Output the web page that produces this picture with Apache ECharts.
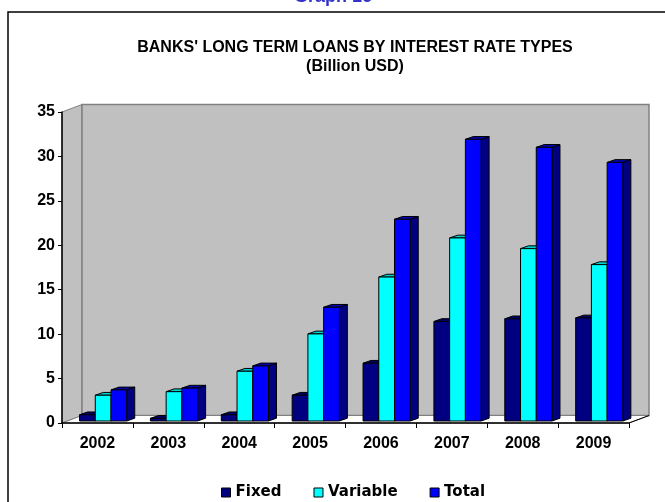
<!DOCTYPE html>
<html><head><meta charset="utf-8">
<script src="https://cdn.jsdelivr.net/npm/echarts@6/dist/echarts.min.js"></script>
<style>html,body{margin:0;padding:0;background:#fff}#c{width:665px;height:502px}</style>
</head><body><div id="c"></div>
<script>
const years = ['2002','2003','2004','2005','2006','2007','2008','2009'];
const fixed = [0.7, 0.3, 0.7, 2.9, 6.5, 11.2, 11.5, 11.6];
const variable = [2.9, 3.3, 5.6, 9.8, 16.2, 20.6, 19.4, 17.6];
const total = [3.5, 3.7, 6.2, 12.8, 22.7, 31.7, 30.8, 29.1];
const seriesNames = ['Fixed', 'Variable', 'Total'];
const yMin = 0, yMax = 35, yStep = 5;

// 3D styling
const WX = 20, WY = 7.5;   // wall depth
const SX = 5.7, SY = 2;    // bar front-plane offset
const DX = 8, DY = 2.8;    // bar depth
const BAR_FRAC = 0.222;
const faces = [
  {front:'#000080', top:'#00006a', side:'#000050'},
  {front:'#00FFFF', top:'#00CCCC', side:'#009999'},
  {front:'#0000FF', top:'#0000B0', side:'#000080'}
];

function barRenderer(k) {
  const c = faces[k];
  return function(params, api) {
    const i = api.value(0), v = api.value(1);
    const p0 = api.coord([i, 0]), p1 = api.coord([i, v]);
    const band = api.size([1, 0])[0];
    const bw = band * BAR_FRAC;
    const x0 = p0[0] - 1.5 * bw + k * bw + SX;
    const x1 = x0 + bw;
    const yb = p0[1] - SY, yt = p1[1] - SY;
    return {type:'group', children:[
      {type:'polygon', shape:{points:[[x1,yt],[x1+DX,yt-DY],[x1+DX,yb-DY],[x1,yb]]},
        style:{fill:c.side, stroke:'#000', lineWidth:1}},
      {type:'polygon', shape:{points:[[x0,yt],[x0+DX,yt-DY],[x1+DX,yt-DY],[x1,yt]]},
        style:{fill:c.top, stroke:'#000', lineWidth:1}},
      {type:'rect', shape:{x:x0, y:yt, width:bw, height:yb-yt},
        style:{fill:c.front, stroke:'#000', lineWidth:1}}
    ]};
  };
}

function wallRenderer(params, api) {
  const g = params.coordSys;
  const gx = g.x, gy = g.y, gw = g.width, gh = g.height, gb = gy + gh;
  return {type:'group', children:[
    {type:'polygon', shape:{points:[[gx,gy],[gx+WX,gy-WY],[gx+WX,gb-WY],[gx,gb]]},
      style:{fill:'#c0c0c0', stroke:'#808080', lineWidth:1}},
    {type:'rect', shape:{x:gx+WX, y:gy-WY, width:gw, height:gh},
      style:{fill:'#c0c0c0', stroke:'#808080', lineWidth:1.5}},
    {type:'polygon', shape:{points:[[gx,gb],[gx+WX,gb-WY],[gx+gw+WX,gb-WY],[gx+gw,gb]]},
      style:{fill:'#ffffff', stroke:'#808080', lineWidth:1}},
    {type:'line', shape:{x1:gx+gw, y1:gb, x2:gx+gw+WX, y2:gb-WY},
      style:{stroke:'#000', lineWidth:1}}
  ]};
}

const numFont = {fontFamily:'Liberation Sans', fontWeight:'bold', fontSize:16, color:'#000'};
const allData = [fixed, variable, total];

const chart = echarts.init(document.getElementById('c'), null, {renderer:'canvas'});
chart.setOption({
  animation:false,
  backgroundColor:'#fff',
  grid:{left:62, right:36, top:112, height:311},
  graphic:[
    {type:'rect', shape:{x:8, y:12, width:720, height:520}, style:{fill:'none', stroke:'#000', lineWidth:1.5}, z:-1},
    {type:'text', x:333, y:-3, style:{text:'Graph 16', fill:'#3333CC', font:'bold 18px "Liberation Sans"', textAlign:'center', textVerticalAlign:'middle'}},
    {type:'text', x:355, y:48, style:{text:"BANKS' LONG TERM LOANS BY INTEREST RATE TYPES", fill:'#000', font:'bold 16px "Liberation Sans"', textAlign:'center', textVerticalAlign:'middle'}},
    {type:'text', x:355, y:67, style:{text:'(Billion USD)', fill:'#000', font:'bold 16px "Liberation Sans"', textAlign:'center', textVerticalAlign:'middle'}}
  ],
  legend:{
    data:seriesNames, left:216, top:480, itemWidth:9, itemHeight:9, itemGap:32, icon:'rect',
    itemStyle:{borderColor:'#000', borderWidth:1},
    textStyle:{fontFamily:'DejaVu Sans', fontWeight:'bold', fontSize:15, color:'#000'}
  },
  xAxis:{
    type:'category', data:years, z:10,
    axisLine:{lineStyle:{color:'#000', width:1.5}},
    axisTick:{show:true, length:5, lineStyle:{color:'#000'}},
    axisLabel:Object.assign({margin:13}, numFont)
  },
  yAxis:{
    type:'value', min:yMin, max:yMax, interval:yStep, z:10,
    axisLine:{show:true, lineStyle:{color:'#000', width:1.5}},
    axisTick:{show:true, length:4, lineStyle:{color:'#000'}},
    splitLine:{show:false},
    axisLabel:Object.assign({margin:7}, numFont)
  },
  series:[
    {type:'custom', name:'wall', renderItem:wallRenderer, data:[[0,0]], clip:false, silent:true, z:1, encode:{x:0,y:1}},
  ].concat(seriesNames.map((n, k) => ({
    type:'custom', name:n, renderItem:barRenderer(k), clip:false, z:3,
    itemStyle:{color:faces[k].front, borderColor:'#000', borderWidth:1},
    encode:{x:0, y:1},
    data:years.map((y, i) => [i, allData[k][i]])
  })))
});
</script></body></html>
